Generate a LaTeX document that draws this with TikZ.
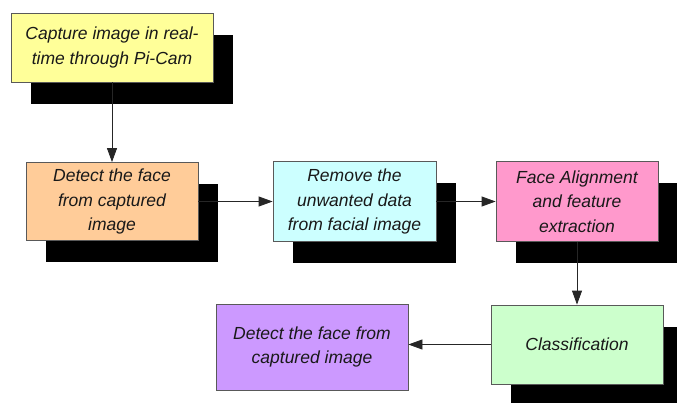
\documentclass[tikz,border=0pt]{standalone}
\usepackage{fontspec}
\setmainfont{Liberation Sans}
\usetikzlibrary{arrows.meta,shadows}
\definecolor{cyellow}{HTML}{FFFF99}
\definecolor{corange}{HTML}{FFCC99}
\definecolor{ccyan}{HTML}{CCFFFF}
\definecolor{cpink}{HTML}{FF99CC}
\definecolor{cgreen}{HTML}{CCFFCC}
\definecolor{cpurple}{HTML}{CC99FF}
\tikzset{
  box/.style={rectangle, draw=black!65, line width=0.8pt, align=center,
    font=\fontsize{17.5}{24.5}\selectfont\itshape, text=black!90, inner sep=0pt},
  shadowed/.style={drop shadow={shadow xshift=20pt, shadow yshift=-22pt, opacity=1, fill=black}},
  conn/.style={draw=black!85, line width=0.8pt, -{Triangle[length=14pt,width=10pt]}}
}
\begin{document}
\begin{tikzpicture}[x=1pt,y=-1pt]
\useasboundingbox (0,0) rectangle (677,403);
\clip (0,0) rectangle (677,403);
\node[box, shadowed, fill=cyellow, minimum width=202pt, minimum height=69pt] (b1) at (112,47.5) {Capture image in real-\\time through Pi-Cam};
\node[box, shadowed, fill=corange, minimum width=172pt, minimum height=78pt] (b2) at (112,201.5) {Detect the face\\from captured\\image};
\node[box, shadowed, fill=ccyan, minimum width=163pt, minimum height=80pt] (b3) at (354.5,201.5) {Remove the\\unwanted data\\from facial image};
\node[box, shadowed, fill=cpink, minimum width=162pt, minimum height=80pt] (b4) at (577,201.5) {Face Alignment\\and feature\\extraction};
\node[box, shadowed, fill=cgreen, minimum width=172pt, minimum height=79pt] (b5) at (577,344.5) {Classification};
\node[box, fill=cpurple, minimum width=192pt, minimum height=86pt] (b6) at (312,347) {Detect the face from\\captured image};
\draw[conn] (b1.south) -- (b2.north);
\draw[conn] (b2.east) -- (b3.west);
\draw[conn] (b3.east) -- (b4.west);
\draw[conn] (b4.south) -- (b5.north);
\draw[conn] (b5.west) -- (b5.west -| b6.east);
\end{tikzpicture}
\end{document}
